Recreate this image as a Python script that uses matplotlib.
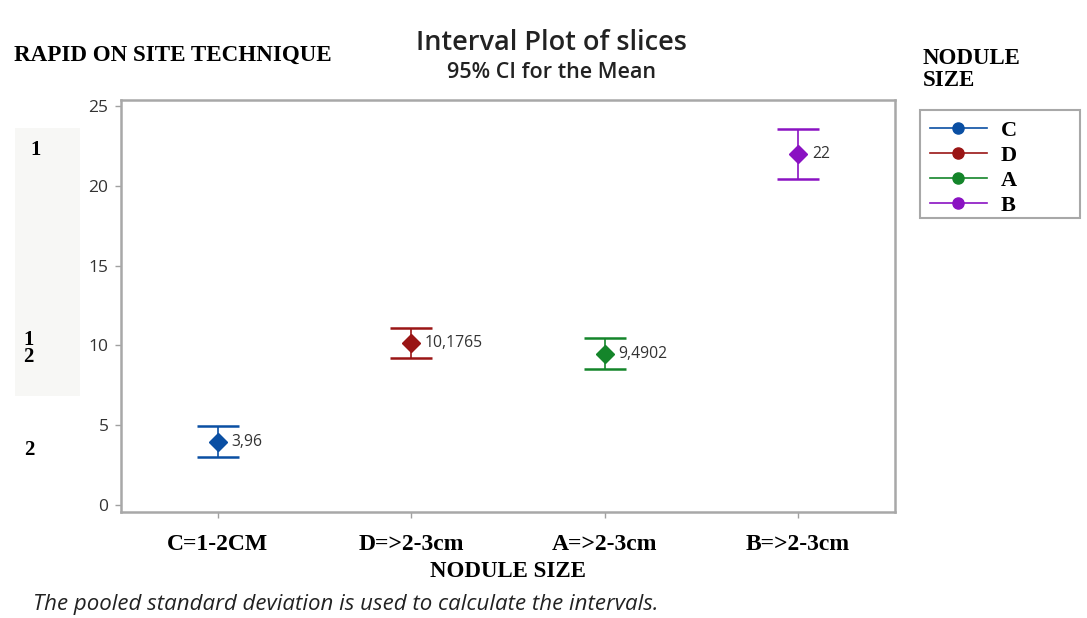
import numpy as np
import matplotlib.pyplot as plt
from matplotlib.lines import Line2D
from matplotlib.patches import Rectangle

# data
categories = ['C=1-2CM', 'D=>2-3cm', 'A=>2-3cm', 'B=>2-3cm']
legend_labels = ['C', 'D', 'A', 'B']
means = [3.96, 10.1765, 9.4902, 22.0]
ci_low = [2.99, 9.24, 8.52, 20.43]
ci_high = [4.93, 11.12, 10.46, 23.57]
value_labels = ['3,96', '10,1765', '9,4902', '22']
colors = ['#0a4fa3', '#9a1515', '#14852a', '#8a12c2']
yticks = [0, 5, 10, 15, 20, 25]

sans = ['Open Sans', 'DejaVu Sans']
serif = ['Liberation Serif', 'DejaVu Serif']

fig = plt.figure(figsize=(10.87, 6.18), dpi=100)
ax = fig.add_axes([0.1113, 0.1715, 0.712, 0.6667])

x = np.arange(len(categories))
for i in range(len(categories)):
    err = [[means[i] - ci_low[i]], [ci_high[i] - means[i]]]
    ax.errorbar(x[i], means[i], yerr=err, fmt='D', color=colors[i],
                ecolor=colors[i], elinewidth=1.2, capsize=15, capthick=1.8,
                markersize=9.5, zorder=3)
    ax.annotate(value_labels[i], (x[i], means[i]), xytext=(10, 0),
                textcoords='offset points', va='center', ha='left',
                fontsize=11.3, color='#333333', family=sans)

ax.set_xlim(-0.5, 3.5)
ax.set_ylim(-0.44, 25.38)
ax.set_yticks(yticks)
ax.set_xticks(x)
ax.set_xticklabels(categories, family=serif, fontweight='bold', fontsize=17)
for lab in ax.get_yticklabels():
    lab.set_family(sans)
    lab.set_fontsize(12.5)
    lab.set_color('#333333')
ax.tick_params(axis='both', color='#a0a0a0', length=4, width=1)
ax.tick_params(axis='x', pad=12)
ax.tick_params(axis='y', pad=5)
for s in ax.spines.values():
    s.set_color('#a8a8a8')
    s.set_linewidth(1.8)

ax.set_xlabel('NODULE SIZE', family=serif, fontweight='bold', fontsize=16.5, labelpad=4)

# titles
fig.text(0.507, 0.931, 'Interval Plot of slices', ha='center', va='center',
         family=sans, fontsize=19.5, fontweight='semibold', color='#222222')
fig.text(0.507, 0.883, '95% CI for the Mean', ha='center', va='center',
         family=sans, fontsize=15.5, fontweight='semibold', color='#222222')

# left side annotations
fig.text(0.013, 0.911, 'RAPID ON SITE TECHNIQUE', ha='left', va='center',
         family=serif, fontweight='bold', fontsize=16.6)
fig.patches.append(Rectangle((0.014, 0.36), 0.06, 0.433, transform=fig.transFigure,
                             facecolor='#f7f7f5', edgecolor='none', zorder=0))
fig.text(0.033, 0.757, '1', ha='center', va='center', family=serif,
         fontweight='bold', fontsize=15)
fig.text(0.026, 0.436, '1\n2', ha='center', va='center', family=serif,
         fontweight='bold', fontsize=15, linespacing=0.85)
fig.text(0.027, 0.272, '2', ha='center', va='center', family=serif,
         fontweight='bold', fontsize=15)

# footnote
fig.text(0.030, 0.022, 'The pooled standard deviation is used to calculate the intervals.',
         ha='left', va='center', family=sans, style='italic', fontsize=16,
         color='#222222')

# legend
fig.text(0.849, 0.888, 'NODULE\nSIZE', ha='left', va='center', family=serif,
         fontweight='bold', fontsize=16.5, linespacing=1.05)
fig.patches.append(Rectangle((0.8464, 0.647), 0.1472, 0.175, transform=fig.transFigure,
                             facecolor='white', edgecolor='#a8a8a8', linewidth=1.5,
                             zorder=1))
handles = [Line2D([0], [0], color=c, marker='o', markersize=8, linewidth=1.2)
           for c in colors]
leg = fig.legend(handles, legend_labels, loc='upper left',
                 bbox_to_anchor=(0.846, 0.822), frameon=False,
                 prop={'family': serif, 'weight': 'bold', 'size': 16},
                 handlelength=2.6, labelspacing=0.2, borderpad=0.45,
                 handletextpad=0.6, borderaxespad=0)

fig.savefig('out.png', dpi=100)
